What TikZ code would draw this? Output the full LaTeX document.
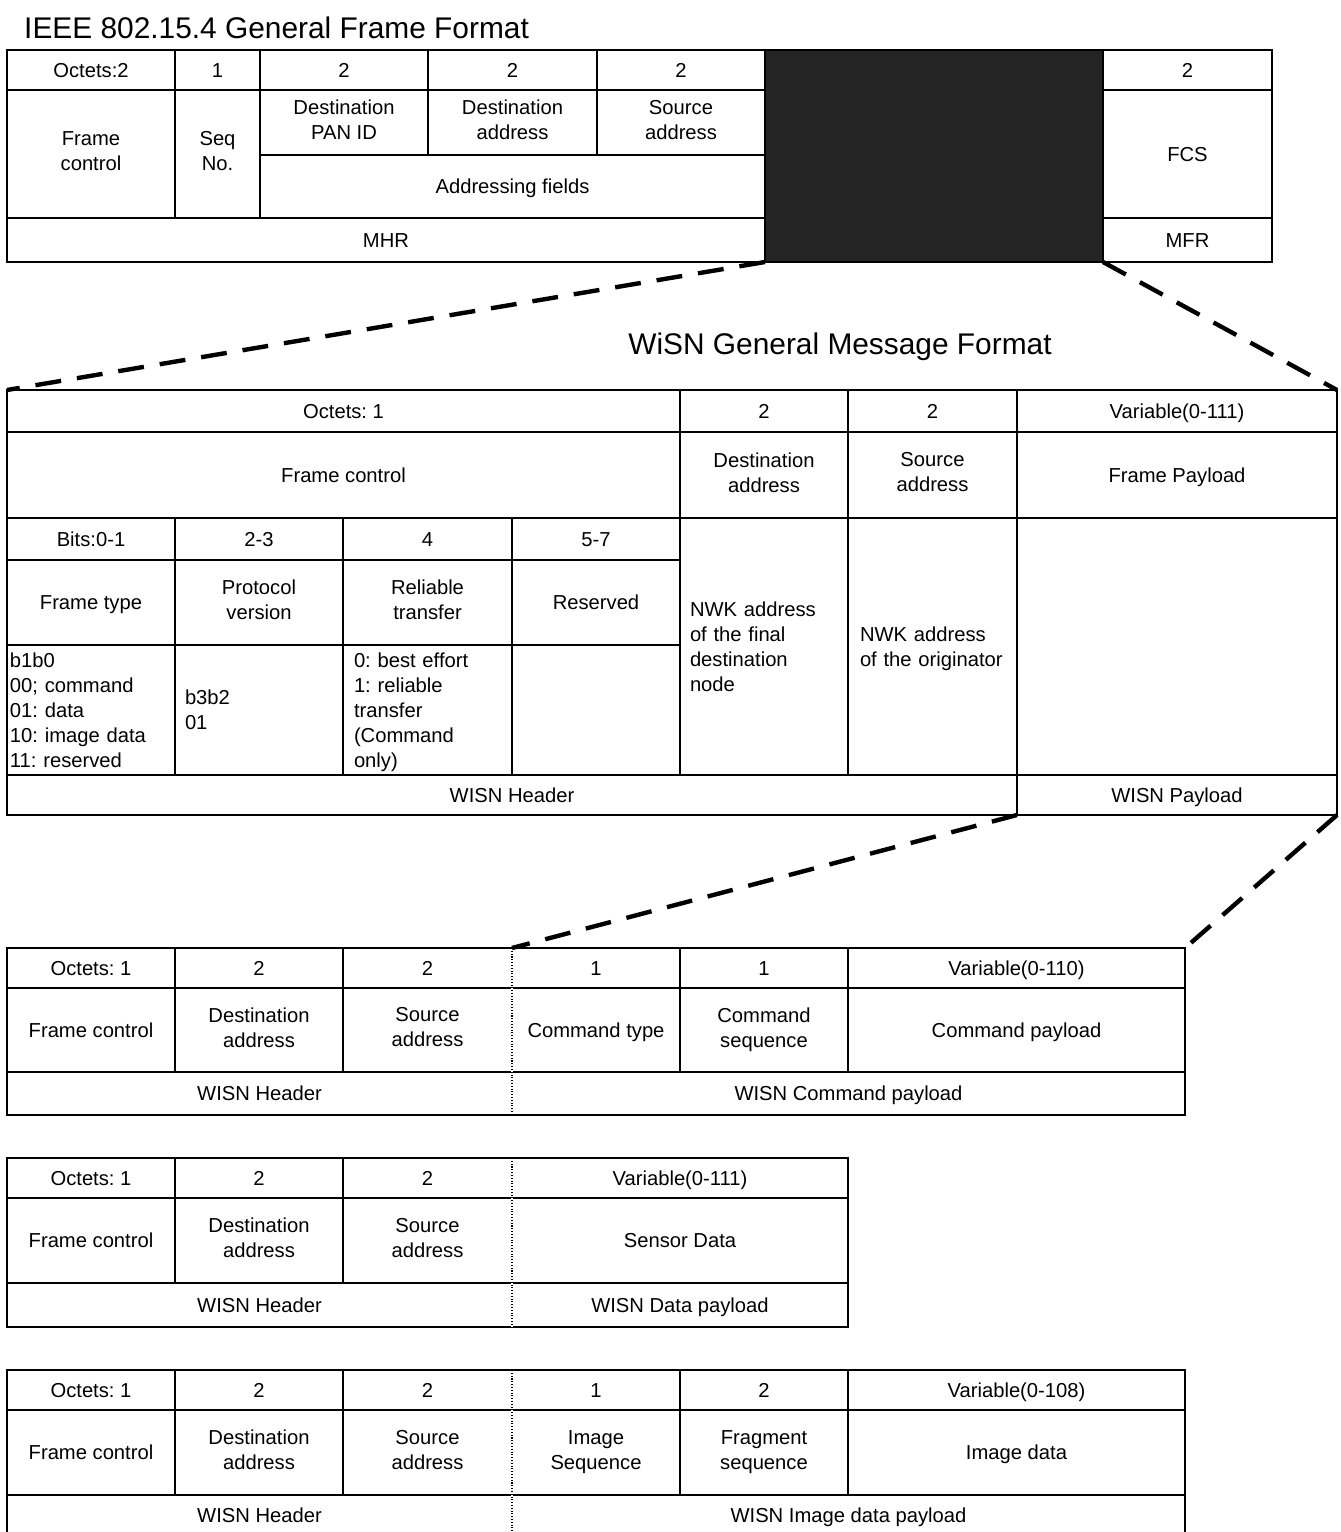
\documentclass[tikz,border=0pt]{standalone}
\usepackage{fontspec}
\setmainfont{Liberation Sans}
\usepackage{tikz}
\usetikzlibrary{positioning}

\frenchspacing
\newlength\pxu
\setlength\pxu{0.02cm}
\newcommand\cellfnt{\fontsize{11.5}{14.2}\selectfont}
\newcommand\titlefnt{\fontsize{17}{20}\selectfont}
\newcommand\cellstrut{\rule[-3pt]{0pt}{14.2pt}}

\begin{document}
\begin{tikzpicture}[x=0.02cm, y=-0.02cm,
	cell/.style={draw, line width=1.1pt, inner sep=2pt, outer sep=0pt, align=center, anchor=north west, font=\cellfnt, execute at begin node=\cellstrut, execute at end node=\cellstrut},
	sz/.style 2 args={minimum width=#1\pxu, minimum height=#2\pxu},
	lcell/.style 2 args={cell, align=left, inner xsep=#1\pxu, inner ysep=0pt, text width=#2\pxu},
	dark/.style={cell, fill=black!86},
	zoomline/.style={line width=2.5pt, dash pattern=on 0.52cm off 0.32cm},
	divider/.style={densely dotted, line width=0.6pt, preaction={draw=white, solid, line width=1.4pt}}]
	
		\clip (0,0) rectangle (1340,1532);
		
		\node (ieeetitle) [anchor=west, font=\titlefnt] at (18,28) {IEEE 802.15.4 General Frame Format};
		
		\node (oct1) [cell, sz={168}{40}] at (7,50) {Octets:2};
		\node (seqoct) [cell, sz={85}{40}, right=0pt of oct1] {1};
		\node (panoct) [cell, sz={168}{40}, right=0pt of seqoct] {2};
		\node (dstoct) [cell, sz={169}{40}, right=0pt of panoct] {2};
		\node (srcoct) [cell, sz={168}{40}, right=0pt of dstoct] {2};
		\node (macpay) [dark, sz={338}{212}] at (srcoct.north east) {};
		\node (fcsoct) [cell, sz={169}{40}] at (macpay.north east) {2};
		
		\node (fc1) [cell, sz={168}{128}] at (oct1.south west) {Frame\\control};
		\node (seq) [cell, sz={85}{128}] at (seqoct.south west) {Seq\\No.};
		\node (panid) [cell, sz={168}{65}] at (panoct.south west) {Destination\\PAN ID};
		\node (dst1) [cell, sz={169}{65}] at (dstoct.south west) {Destination\\address};
		\node (src1) [cell, sz={168}{65}] at (srcoct.south west) {Source\\address};
		\node (addr) [cell, sz={505}{63}] at (panid.south west) {Addressing fields};
		\node (fcs) [cell, sz={169}{128}] at (fcsoct.south west) {FCS};
		\node (mhr) [cell, sz={758}{44}] at (fc1.south west) {MHR};
		\node (mfr) [cell, sz={169}{44}] at (fcs.south west) {MFR};
		
		\node (wisntitle) [font=\titlefnt] at (840,347) {WiSN General Message Format};
		
		\node (octb) [cell, sz={673}{42}] at (7,390) {Octets: 1};
		\node (dstoctb) [cell, sz={168}{42}, right=0pt of octb] {2};
		\node (srcoctb) [cell, sz={169}{42}, right=0pt of dstoctb] {2};
		\node (payoctb) [cell, sz={320}{42}, right=0pt of srcoctb] {Variable(0-111)};
		
		\node (fcb) [cell, sz={673}{86}] at (octb.south west) {Frame control};
		\node (dstb) [cell, sz={168}{86}, right=0pt of fcb] {Destination\\address};
		\node (srcb) [cell, sz={169}{86}, right=0pt of dstb] {Source\\address};
		\node (payb) [cell, sz={320}{86}, right=0pt of srcb] {Frame Payload};
		
		\node (bit01) [cell, sz={168}{42}] at (fcb.south west) {Bits:0-1};
		\node (bit23) [cell, sz={168}{42}, right=0pt of bit01] {2-3};
		\node (bit4) [cell, sz={169}{42}, right=0pt of bit23] {4};
		\node (bit57) [cell, sz={168}{42}, right=0pt of bit4] {5-7};
		
		\node (ftype) [cell, sz={168}{85}] at (bit01.south west) {Frame type};
		\node (pver) [cell, sz={168}{85}, right=0pt of ftype] {Protocol\\version};
		\node (rel) [cell, sz={169}{85}, right=0pt of pver] {Reliable\\transfer};
		\node (resv) [cell, sz={168}{85}, right=0pt of rel] {Reserved};
		
		\node (ftypev) [lcell={3}{162}, sz={168}{130}] at (ftype.south west) {b1b0\\00; command\\01: data\\10: image data\\11: reserved};
		\node (pverv) [lcell={10}{148}, sz={168}{130}] at (pver.south west) {b3b2\\01};
		\node (relv) [lcell={11}{147}, sz={169}{130}] at (rel.south west) {0: best effort\\1: reliable\\transfer\\(Command\\only)};
		\node (resvv) [cell, sz={168}{130}] at (resv.south west) {};
		\node (dstnwk) [lcell={10}{148}, sz={168}{257}] at (dstb.south west) {NWK address\\of the final\\destination\\node};
		\node (srcnwk) [lcell={12}{145}, sz={169}{257}] at (srcb.south west) {NWK address\\of the originator};
		\node (payv) [cell, sz={320}{257}] at (payb.south west) {};
		
		\node (hdrb) [cell, sz={1010}{40}, anchor=north east] at (payv.south west) {WISN Header};
		\node (wpay) [cell, sz={320}{40}] at (payv.south west) {WISN Payload};
		
		\node (octc) [cell, sz={168}{40}] at (7,948) {Octets: 1};
		\node (dstoctc) [cell, sz={168}{40}, right=0pt of octc] {2};
		\node (srcoctc) [cell, sz={169}{40}, right=0pt of dstoctc] {2};
		\node (typoctc) [cell, sz={168}{40}, right=0pt of srcoctc] {1};
		\node (seqoctc) [cell, sz={168}{40}, right=0pt of typoctc] {1};
		\node (payoctc) [cell, sz={337}{40}, right=0pt of seqoctc] {Variable(0-110)};
		
		\node (fcc) [cell, sz={168}{84}] at (octc.south west) {Frame control};
		\node (dstc) [cell, sz={168}{84}, right=0pt of fcc] {Destination\\address};
		\node (srcc) [cell, sz={169}{84}, right=0pt of dstc] {Source\\address};
		\node (typc) [cell, sz={168}{84}, right=0pt of srcc] {Command type};
		\node (seqc) [cell, sz={168}{84}, right=0pt of typc] {Command\\sequence};
		\node (payc) [cell, sz={337}{84}, right=0pt of seqc] {Command payload};
		
		\node (hdrc) [cell, sz={505}{43}] at (fcc.south west) {WISN Header};
		\node (cpayc) [cell, sz={673}{43}, right=0pt of hdrc] {WISN Command payload};
		
		\node (octd) [cell, sz={168}{40}] at (7,1158) {Octets: 1};
		\node (dstoctd) [cell, sz={168}{40}, right=0pt of octd] {2};
		\node (srcoctd) [cell, sz={169}{40}, right=0pt of dstoctd] {2};
		\node (payoctd) [cell, sz={336}{40}, right=0pt of srcoctd] {Variable(0-111)};
		
		\node (fcd) [cell, sz={168}{85}] at (octd.south west) {Frame control};
		\node (dstd) [cell, sz={168}{85}, right=0pt of fcd] {Destination\\address};
		\node (srcd) [cell, sz={169}{85}, right=0pt of dstd] {Source\\address};
		\node (payd) [cell, sz={336}{85}, right=0pt of srcd] {Sensor Data};
		
		\node (hdrd) [cell, sz={505}{44}] at (fcd.south west) {WISN Header};
		\node (dpayd) [cell, sz={336}{44}, right=0pt of hdrd] {WISN Data payload};
		
		\node (octe) [cell, sz={168}{40}] at (7,1370) {Octets: 1};
		\node (dstocte) [cell, sz={168}{40}, right=0pt of octe] {2};
		\node (srcocte) [cell, sz={169}{40}, right=0pt of dstocte] {2};
		\node (imgocte) [cell, sz={168}{40}, right=0pt of srcocte] {1};
		\node (fragocte) [cell, sz={168}{40}, right=0pt of imgocte] {2};
		\node (payocte) [cell, sz={337}{40}, right=0pt of fragocte] {Variable(0-108)};
		
		\node (fce) [cell, sz={168}{85}] at (octe.south west) {Frame control};
		\node (dste) [cell, sz={168}{85}, right=0pt of fce] {Destination\\address};
		\node (srce) [cell, sz={169}{85}, right=0pt of dste] {Source\\address};
		\node (imge) [cell, sz={168}{85}, right=0pt of srce] {Image\\Sequence};
		\node (frage) [cell, sz={168}{85}, right=0pt of imge] {Fragment\\sequence};
		\node (paye) [cell, sz={337}{85}, right=0pt of frage] {Image data};
		
		\node (hdre) [cell, sz={505}{40}] at (fce.south west) {WISN Header};
		\node (ipaye) [cell, sz={673}{40}, right=0pt of hdre] {WISN Image data payload};
		
		\draw[divider] (typoctc.north west) -- (cpayc.south west);
		\draw[divider] (payoctd.north west) -- (dpayd.south west);
		\draw[divider] (imgocte.north west) -- (ipaye.south west);
		
		\draw[zoomline] (macpay.south west) -- (octb.north west);
		\draw[zoomline] (macpay.south east) -- (payoctb.north east);
		\draw[zoomline] (wpay.south west) -- (typoctc.north west);
		\draw[zoomline] (wpay.south east) -- (payoctc.north east);
		
	\end{tikzpicture}
\end{document}
